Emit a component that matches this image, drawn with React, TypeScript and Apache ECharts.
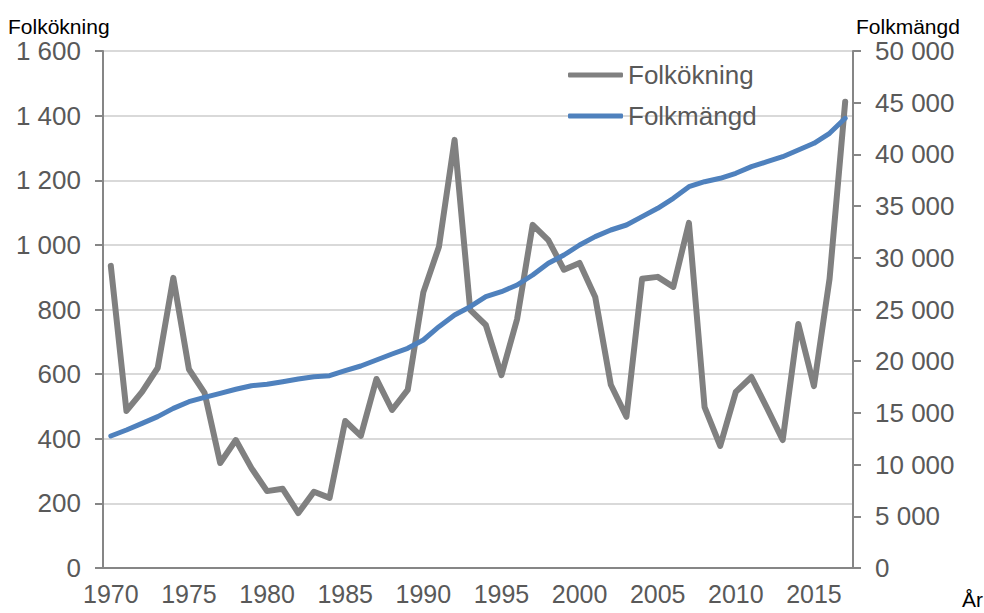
import React, { useEffect, useRef } from "react";
import * as echarts from "echarts";

const years = [
  "1970", "1971", "1972", "1973", "1974", "1975", "1976", "1977", "1978", "1979",
  "1980", "1981", "1982", "1983", "1984", "1985", "1986", "1987", "1988", "1989",
  "1990", "1991", "1992", "1993", "1994", "1995", "1996", "1997", "1998", "1999",
  "2000", "2001", "2002", "2003", "2004", "2005", "2006", "2007", "2008", "2009",
  "2010", "2011", "2012", "2013", "2014", "2015", "2016", "2017",
];

const folkokning = [
  935, 486, 545, 619, 898, 615, 542, 325, 396, 309,
  238, 245, 170, 236, 217, 455, 409, 585, 489, 551,
  853, 994, 1325, 799, 752, 597, 770, 1062, 1015, 923,
  944, 839, 567, 468, 895, 901, 870, 1068, 498, 378,
  545, 591, 495, 396, 755, 563, 895, 1443,
];

const folkmangd = [
  12766, 13346, 13990, 14636, 15440, 16084, 16505, 16895, 17283, 17630,
  17765, 18018, 18279, 18501, 18598, 19082, 19536, 20116, 20696, 21247,
  22050, 23336, 24468, 25270, 26238, 26722, 27369, 28337, 29466, 30270,
  31238, 32044, 32689, 33172, 33978, 34786, 35756, 36876, 37360, 37687,
  38172, 38813, 39295, 39778, 40426, 41073, 42040, 43491,
];

const seriesNames = ["Folkökning", "Folkmängd"];
const leftAxisName = "Folkökning";
const rightAxisName = "Folkmängd";
const xAxisName = "År";

const fmt = (v: number) => String(v).replace(/\B(?=(\d{3})+(?!\d))/g, " ");

const FONT = "'Liberation Sans', Arial, sans-serif";
const AXIS_COLOR = "#868686";
const LABEL_COLOR = "#595959";
const GRAY = "#808080";
const BLUE = "#4f81bd";

export default function App() {
  const ref = useRef<HTMLDivElement>(null);

  useEffect(() => {
    if (!ref.current) return;
    const chart = echarts.init(ref.current, undefined, { renderer: "svg" });
    chart.setOption({
      animation: false,
      backgroundColor: "#ffffff",
      textStyle: { fontFamily: FONT },
      grid: { left: 103, right: 131, top: 51, bottom: 45, containLabel: false },
      legend: {
        data: seriesNames,
        orient: "vertical",
        left: 568,
        top: 62,
        padding: 0,
        icon: "roundRect",
        itemWidth: 55,
        itemHeight: 5,
        itemGap: 15,
        textStyle: { fontSize: 26, color: LABEL_COLOR, fontFamily: FONT },
      },
      xAxis: {
        type: "category",
        data: years,
        boundaryGap: true,
        axisLine: { lineStyle: { color: AXIS_COLOR, width: 2 } },
        axisTick: {
          interval: 4,
          length: 7,
          alignWithLabel: false,
          lineStyle: { color: AXIS_COLOR, width: 2 },
        },
        axisLabel: {
          interval: 4,
          margin: 13,
          fontSize: 25,
          color: LABEL_COLOR,
          fontFamily: FONT,
        },
        splitLine: { show: false },
      },
      yAxis: [
        {
          type: "value",
          min: 0,
          max: 1600,
          interval: 200,
          position: "left",
          axisLine: { show: true, lineStyle: { color: AXIS_COLOR, width: 2 } },
          axisTick: { show: true, length: 8, lineStyle: { color: AXIS_COLOR, width: 2 } },
          axisLabel: {
            margin: 22,
            fontSize: 26,
            color: LABEL_COLOR,
            fontFamily: FONT,
            formatter: (v: number) => fmt(v),
          },
          splitLine: { show: true, lineStyle: { color: "#d9d9d9", width: 2 } },
        },
        {
          type: "value",
          min: 0,
          max: 50000,
          interval: 5000,
          position: "right",
          axisLine: { show: true, lineStyle: { color: AXIS_COLOR, width: 2 } },
          axisTick: { show: true, length: 8, lineStyle: { color: AXIS_COLOR, width: 2 } },
          axisLabel: {
            margin: 22,
            fontSize: 26,
            color: LABEL_COLOR,
            fontFamily: FONT,
            formatter: (v: number) => fmt(v),
          },
          splitLine: { show: false },
        },
      ],
      series: [
        {
          name: seriesNames[0],
          type: "line",
          yAxisIndex: 0,
          data: folkokning,
          symbol: "none",
          showSymbol: false,
          color: GRAY,
          itemStyle: { color: GRAY },
          lineStyle: { color: GRAY, width: 6, cap: "round", join: "round" },
          z: 2,
        },
        {
          name: seriesNames[1],
          type: "line",
          yAxisIndex: 1,
          data: folkmangd,
          symbol: "none",
          showSymbol: false,
          color: BLUE,
          itemStyle: { color: BLUE },
          lineStyle: { color: BLUE, width: 5, cap: "round", join: "round" },
          z: 3,
        },
      ],
      graphic: [
        {
          type: "text",
          left: 8,
          top: 16,
          style: { text: leftAxisName, fontSize: 21, fill: "#000000", fontFamily: FONT },
        },
        {
          type: "text",
          left: 856,
          top: 16,
          style: { text: rightAxisName, fontSize: 21, fill: "#000000", fontFamily: FONT },
        },
        {
          type: "text",
          left: 962,
          top: 589,
          style: { text: xAxisName, fontSize: 21, fill: "#000000", fontFamily: FONT },
        },
      ],
    });
    return () => chart.dispose();
  }, []);

  return (
    <div
      ref={ref}
      style={{ position: "fixed", left: 0, top: 0, width: 984, height: 613 }}
    />
  );
}
